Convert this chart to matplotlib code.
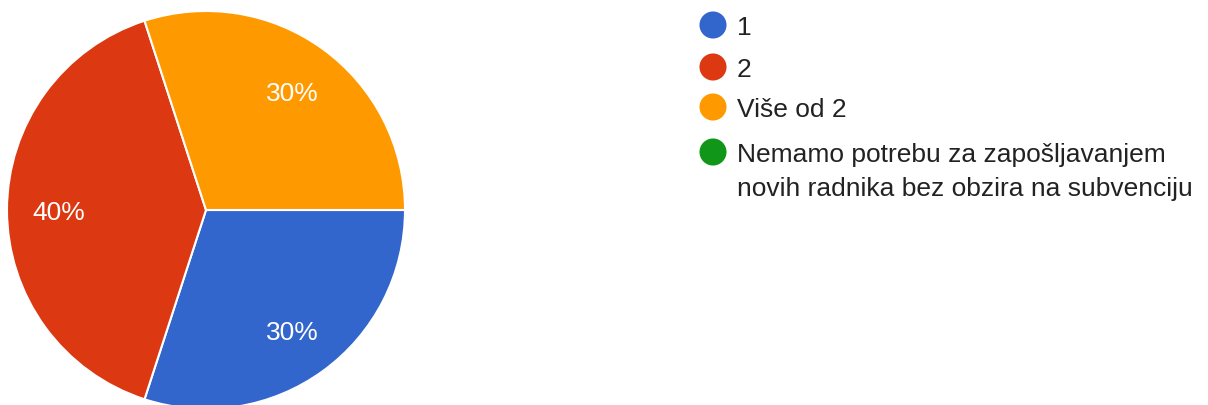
import matplotlib.pyplot as plt

# -------- DATA --------
categories = ["1", "2", "Više od 2",
              "Nemamo potrebu za zapošljavanjem\nnovih radnika bez obzira na subvenciju"]
values = [30, 40, 30, 0]
colors = ["#3366cc", "#dc3912", "#ff9900", "#109618"]

W, H = 1208, 406
plt.rcParams["font.family"] = ["Liberation Sans", "DejaVu Sans"]

fig = plt.figure(figsize=(W / 100, H / 100), dpi=100)

# pie axes, placed in pixels (center ~ (206, 211), radius ~ 199)
cx, cy, r = 206, 211, 199
ax = fig.add_axes([(cx - r) / W, (H - cy - r) / H, 2 * r / W, 2 * r / H])
pie_vals = [v for v in values if v > 0]
pie_cols = [c for v, c in zip(values, colors) if v > 0]
wedges, texts, autotexts = ax.pie(
    pie_vals, colors=pie_cols, startangle=0, counterclock=False,
    autopct="%d%%", pctdistance=0.74, radius=1,
    wedgeprops=dict(edgecolor="white", linewidth=1.5),
    textprops=dict(color="white", fontsize=19),
)
for t in autotexts:
    t.set_va("center_baseline")
ax.set_xlim(-1, 1)
ax.set_ylim(-1, 1)
ax.set_aspect("equal")
ax.axis("off")

# legend drawn in pixel coordinates
lax = fig.add_axes([0, 0, 1, 1])
lax.set_xlim(0, W)
lax.set_ylim(H, 0)
lax.axis("off")
ys = [26, 68, 108, 153]
for y, label, col in zip(ys, categories, colors):
    lax.scatter([713], [y], s=380, color=col, edgecolor="none")
    lax.text(737, y - 10, label, fontsize=19, color="#222222",
             va="top", ha="left", linespacing=1.55)

fig.savefig("out.png", dpi=100)
